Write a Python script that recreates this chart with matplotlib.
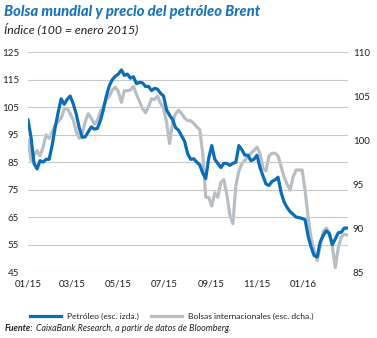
import matplotlib
matplotlib.use("Agg")
import matplotlib.pyplot as plt
import pandas as pd
from matplotlib.lines import Line2D

plt.rcParams['font.family'] = ['Lato', 'DejaVu Sans']

# Series sampled every 4 days from 1 Jan 2015
start_date = "2015-01-01"
step = "4D"

petroleo = [100.3, 94, 84.5, 82.5, 85.5, 85, 86, 86, 91, 97.5,
            103, 108, 106, 107.8, 109, 106.2, 102.5, 97.5, 94, 94.2,
            96, 97.8, 97, 97.2, 100, 104, 109, 112.8, 115, 116.2,
            117, 118.5, 116.5, 117, 115.5, 116, 113.5, 114, 113.8, 112.5,
            112.5, 111, 111.8, 111.5, 110, 109, 104, 102, 100.5, 97.5,
            96.5, 94.5, 92.5, 88, 86, 86.2, 85, 84, 81, 79,
            86.5, 91, 86, 84.5, 83, 84.5, 84.5, 83.8, 84.5, 85,
            91, 89.5, 87.5, 87.5, 85.5, 86, 87.5, 83, 80, 77,
            76.5, 78, 78.5, 79.5, 74, 70.5, 68.5, 67, 66, 65,
            64.8, 64.5, 64, 58, 54, 51, 50.5, 56, 58.3, 60,
            59, 55, 57, 59.3, 59.5, 61, 61]

bolsas = [100, 97.7, 98.3, 98.8, 98.2, 99.2, 100.6, 100.2, 100.9, 101.7,
          102.1, 102.5, 103.5, 103.6, 103, 102.3, 101, 100.2, 100.8, 102.1,
          103, 102.5, 101.8, 102.2, 103.2, 103.8, 104.6, 105, 105.7, 106,
          105.5, 104.3, 105.6, 105.6, 105.7, 106.1, 105.2, 104.4, 103.6, 103.1,
          103.8, 104.7, 104.6, 105, 104.2, 103.6, 102, 99.6, 102, 103,
          103.4, 103, 102.5, 102.2, 102.2, 101.9, 101.5, 101.2, 98.5, 93.5,
          93.5, 92.5, 94, 93.5, 95.2, 95.5, 93.8, 91.5, 90.5, 94.8,
          96.5, 97.3, 97.7, 98.1, 98.5, 98.8, 99.2, 98.5, 96.8, 96.5,
          98.2, 98.5, 98.5, 98.2, 97, 95.8, 95, 94.3, 95.8, 96.6,
          96.6, 96.6, 94.2, 91.2, 88.8, 87.4, 86.3, 88, 89.6, 90,
          89.5, 88, 85.5, 87.8, 89, 89.3, 89.2]

fechas = pd.date_range(start_date, periods=len(petroleo), freq=step)

left_ticks = [45, 55, 65, 75, 85, 95, 105, 115, 125]
right_ticks = [85, 90, 95, 100, 105, 110]
x_ticks = ["2015-01-01", "2015-03-01", "2015-05-01", "2015-07-01",
           "2015-09-01", "2015-11-01", "2016-01-01"]
x_labels = ["01/15", "03/15", "05/15", "07/15", "09/15", "11/15", "01/16"]

blue = "#0a6db5"
grey = "#b7bfc4"
title_blue = "#1b75bb"
text_col = "#231f20"

fig = plt.figure(figsize=(3.77, 3.38), dpi=100)
ax = fig.add_axes([0.0743, 0.195, 0.849, 0.651])
ax2 = ax.twinx()

ax.plot(fechas, petroleo, color=blue, lw=2.3, solid_joinstyle="round", zorder=3)
ax2.plot(fechas, bolsas, color=grey, lw=2.3, solid_joinstyle="round", zorder=2)
ax.set_zorder(ax2.get_zorder() + 1)
ax.patch.set_visible(False)

ax.set_ylim(45, 125)
ax2.set_ylim(85, 110)
ax.set_xlim(pd.Timestamp("2015-01-01"), pd.Timestamp("2016-03-01"))

ax.set_yticks(left_ticks)
ax2.set_yticks(right_ticks)
ax.set_xticks(pd.to_datetime(x_ticks))
ax.set_xticklabels(x_labels)

for a in (ax, ax2):
    for s in a.spines.values():
        s.set_visible(False)
    a.tick_params(length=0, labelsize=7, colors=text_col)
ax.tick_params(axis="y", pad=6.5)
ax2.tick_params(axis="y", pad=3.5)
ax.tick_params(axis="x", pad=5)

ax.grid(axis="y", color="#c8c8c8", lw=0.8)
ax.grid(axis="x", visible=False)
ax.set_axisbelow(True)
ax2.grid(False)

fig.text(0.011, 0.964, "Bolsa mundial y precio del petróleo Brent",
         color=title_blue, fontsize=10.6, fontweight="black", fontstyle="italic",
         va="center", ha="left")
fig.text(0.011, 0.913, "Índice (100 = enero 2015)", color=text_col,
         fontsize=8.8, fontstyle="italic", va="center", ha="left")

handles = [Line2D([], [], color=blue, lw=2.3),
           Line2D([], [], color=grey, lw=2.3)]
fig.legend(handles, ["Petróleo (esc. izda.)", "Bolsas internacionales (esc. dcha.)"],
           loc="center", bbox_to_anchor=(0.456, 0.064), ncol=2, frameon=False,
           fontsize=6.1, handlelength=3.6, columnspacing=1.4, handletextpad=0.8,
           labelcolor=text_col)

src1 = fig.text(0.013, 0.028, "Fuente:", fontsize=6.4, fontweight="bold",
                fontstyle="italic", color=text_col, va="center", ha="left")
renderer = fig.canvas.get_renderer()
bb = src1.get_window_extent(renderer=renderer)
x_next = (bb.x1 + 2.5) / fig.bbox.width
fig.text(x_next, 0.028, "CaixaBank Research, a partir de datos de Bloomberg.",
         fontsize=6.4, fontstyle="italic", color=text_col, va="center", ha="left")

fig.savefig("out.png", dpi=100, facecolor="white")
